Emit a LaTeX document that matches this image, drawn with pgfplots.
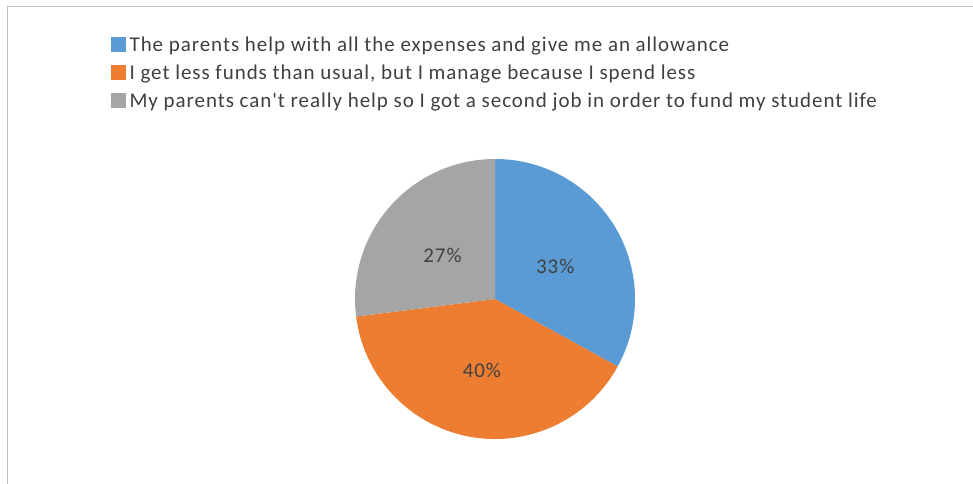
\documentclass[border=0pt]{standalone}
\usepackage{pgfplots}
\usepackage{pgfplotstable}
\usetikzlibrary{calc}
\pgfplotsset{compat=1.18}
\usepackage{fontspec}
\setmainfont{Carlito}[LetterSpace=4.5, Ligatures=TeXOff]
\definecolor{pblue}{HTML}{5B9BD5}
\definecolor{porange}{HTML}{ED7D31}
\definecolor{pgray}{HTML}{A5A5A5}
\definecolor{frame}{HTML}{C0C0C0}
\definecolor{txt}{HTML}{404040}
\pgfplotstableread{
idx value
0 33
1 40
2 27
}\piedata
\begin{document}
\begin{tikzpicture}
\pgfplotstablegetelem{0}{value}\of\piedata \let\va\pgfplotsretval
\pgfplotstablegetelem{1}{value}\of\piedata \let\vb\pgfplotsretval
\pgfplotstablegetelem{2}{value}\of\piedata \let\vc\pgfplotsretval
\pgfmathsetmacro\tot{\va+\vb+\vc}
\pgfmathsetmacro\aA{90}
\pgfmathsetmacro\aB{90-360*\va/\tot}
\pgfmathsetmacro\aC{\aB-360*\vb/\tot}
\pgfmathsetmacro\aD{\aC-360*\vc/\tot}
\pgfmathsetmacro\mA{(\aA+\aB)/2}
\pgfmathsetmacro\mB{(\aB+\aC)/2}
\pgfmathsetmacro\mC{(\aC+\aD)/2}
\begin{axis}[
  scale only axis, width=973bp, height=484bp,
  xmin=0, xmax=973, ymin=0, ymax=484,
  hide axis, clip=false,
  legend style={at={(axis cs:111,449)}, anchor=north west, draw=none,
    fill=none, inner sep=0pt, font=\fontsize{21bp}{24bp}\selectfont,
    row sep=10.5bp, text=txt,
    nodes={inner xsep=4bp, inner ysep=1.5bp, text depth=0pt}},
  legend cell align=left,
]
\addlegendimage{legend image code/.code={\fill[pblue] (0bp,-7.5bp) rectangle (14bp,6.5bp);}}
\addlegendentry{The parents help with all the expenses and give me an allowance}
\addlegendimage{legend image code/.code={\fill[porange] (0bp,-7.5bp) rectangle (14bp,6.5bp);}}
\addlegendentry{I get less funds than usual, but I manage because I spend less}
\addlegendimage{legend image code/.code={\fill[pgray] (0bp,-7.5bp) rectangle (14bp,6.5bp);}}
\addlegendentry{My parents can't really help so I got a second job in order to fund my student life}
% frame
\draw[frame, line width=1.5bp] (axis cs:7.5,0) -- (axis cs:7.5,477.5) -- (axis cs:973,477.5);
% slices
\fill[pblue] (axis cs:495,185) -- ++(\aA:140bp) arc[start angle=\aA, end angle=\aB, radius=140bp] -- cycle;
\fill[porange] (axis cs:495,185) -- ++(\aB:140bp) arc[start angle=\aB, end angle=\aC, radius=140bp] -- cycle;
\fill[pgray] (axis cs:495,185) -- ++(\aC:140bp) arc[start angle=\aC, end angle=\aD, radius=140bp] -- cycle;
\node[font=\fontsize{21bp}{24bp}\selectfont, text=txt] at ($(axis cs:495,182)+(\mA:70bp)$) {33\%};
\node[font=\fontsize{21bp}{24bp}\selectfont, text=txt] at ($(axis cs:495,182)+(\mB:70bp)$) {40\%};
\node[font=\fontsize{21bp}{24bp}\selectfont, text=txt] at ($(axis cs:495,182)+(\mC:70bp)$) {27\%};
\end{axis}
\pgfresetboundingbox
\path[use as bounding box] (0,0) rectangle (973bp,484bp);
\end{tikzpicture}
\end{document}
